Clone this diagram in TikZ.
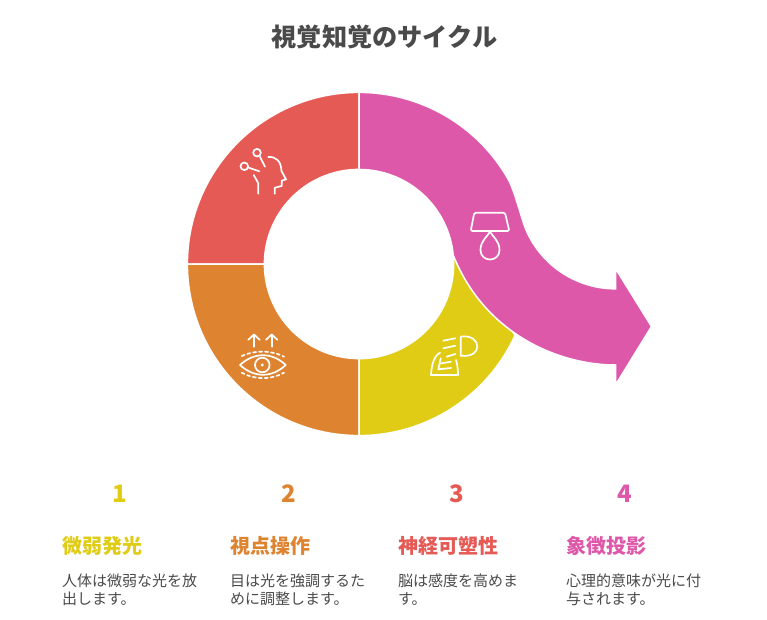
\documentclass[tikz,border=0pt]{standalone}
\usepackage{fontspec}
\setmainfont{Noto Sans CJK JP}
\definecolor{yellowseg}{HTML}{E0CC15}
\definecolor{orangeseg}{HTML}{DE8431}
\definecolor{redseg}{HTML}{E55A55}
\definecolor{pinkseg}{HTML}{DE58A9}
\definecolor{inkgray}{HTML}{4A4A4A}
\begin{document}
\begin{tikzpicture}[x=1pt, y=-1pt, line cap=round]

%---- STYLES ----
\tikzset{
    seg/.style={draw=white, line width=1.5pt},
    icon/.style={draw=white, line width=1.7pt, line join=round},
    titletext/.style={text=inkgray, font=\fontsize{25.2}{30}\selectfont\bfseries, anchor=base},
    numtext/.style={font=\fontsize{24}{28}\selectfont\bfseries, anchor=base},
    headtext/.style={font=\fontsize{20}{24}\selectfont\bfseries, anchor=base west, inner sep=0pt},
    bodytext/.style={text=inkgray, font=\fontsize{15}{18}\selectfont, anchor=base west, inner sep=0pt, align=left},
}

\useasboundingbox (0,0) rectangle (767,620);
\fill[white] (0,0) rectangle (767,620);

% RING CENTRE
\coordinate (C) at (359,264);
\def\Ro{171.6}
\def\Ri{94.6}

%---- RING SEGMENTS ----
\filldraw[seg, fill=redseg] (359,92.4) arc[start angle=-90, end angle=-180, radius=\Ro]
    -- (264.4,264) arc[start angle=180, end angle=270, radius=\Ri] -- cycle;
\filldraw[seg, fill=orangeseg] (187.4,264) arc[start angle=180, end angle=90, radius=\Ro]
    -- (359,358.6) arc[start angle=90, end angle=180, radius=\Ri] -- cycle;
\filldraw[seg, fill=yellowseg] (359,435.6) arc[start angle=90, end angle=24.5, radius=\Ro]
    -- (453.2,255) arc[start angle=-5.5, end angle=90, radius=\Ri] -- cycle;

%---- ARROW ----
\filldraw[seg, fill=pinkseg] (359,92.4) arc[start angle=-90, end angle=-30, radius=\Ro]
    .. controls (514.6,190) and (521.6,220) .. (526.5,231)
    arc[start angle=156, end angle=90, radius=97.5]
    -- (615.5,268.5) -- (651.5,326.5) -- (615.5,385) -- (615.5,365)
    .. controls (560,365) and (485,335) .. (453.2,255)
    arc[start angle=-5.5, end angle=-90, radius=\Ri] -- cycle;

%---- ICON RED (head)
\draw[icon] (257,152.7) circle (3.8);
\draw[icon] (244.3,166.3) circle (3.8);
\draw[icon] (260,156.7) -- (265,166.7);
\draw[icon] (248.7,167.7) -- (259.3,171.3);
\draw[icon] (268.3,157) .. controls (276,156.5) and (281,161) .. (281.5,171)
    -- (286,179.3) -- (281.7,180.7) -- (281.7,186) -- (274.7,187.7) -- (274.7,193.7);
\draw[icon] (253.7,175) -- (258.3,183.3) -- (258.3,193.7);

%---- ICON ORANGE (eye)
\draw[icon] (254,346.7) -- (254,334.5);
\draw[icon] (248.3,339.8) -- (254,334.5) -- (259.7,339.8);
\draw[icon] (271.7,346.7) -- (271.7,334.5);
\draw[icon] (266,339.8) -- (271.7,334.5) -- (277.4,339.8);
\draw[icon] (240,365) .. controls (254,352) and (272,352) .. (285.7,365)
    .. controls (272,378) and (254,378) .. (240,365) -- cycle;
\draw[icon] (262.3,365) circle (7.3);
\fill[white] (262.3,365) circle (1.6);
\draw[icon, dash pattern=on 3pt off 3pt] (241.7,356) .. controls (255,350) and (271,350) .. (284,356.7);
\draw[icon, dash pattern=on 3pt off 3pt] (241.7,372.7) .. controls (255,380) and (271,380) .. (284,372.7);

%---- ICON YELLOW (lamp)
\draw[icon] (460.7,336.7) .. controls (472,335) and (477.3,341) .. (477.3,346.5)
    .. controls (477.3,352) and (472,357) .. (460.7,355.7) -- cycle;
\draw[icon] (443.3,340.7) -- (455.3,338.3);
\draw[icon] (443.3,348.3) -- (455.3,345.7);
\draw[icon] (446.7,356.7) -- (455.3,354);
\draw[icon] (440,352.7) .. controls (434,356) and (431.5,365) .. (431,375) -- (458,375)
    .. controls (458,370) and (457.5,365) .. (456,360);
\draw[icon] (451,368) -- (438.3,369.3) -- (440.7,358.3);
\draw[icon] (440.5,363.5) -- (451,361.7);

%---- ICON PINK (drop)
\draw[icon, rounded corners=1.5pt] (474.3,212.7) -- (505,212.7) -- (509.3,231) -- (470.7,231) -- cycle;
\draw[icon] (490,231.7) .. controls (487,237) and (480.5,241) .. (480.5,250)
    .. controls (480.5,256) and (485,259.5) .. (490,259.5)
    .. controls (495,259.5) and (499.5,256) .. (499.5,250)
    .. controls (499.5,241) and (493,237) .. (490,231.7) -- cycle;

%---- TITLE ----
\node[titletext] (title) at (384.5,47) {視覚知覚のサイクル};

%---- NUMBERS ----
\node[numtext, text=yellowseg] (numA) at (120,502.5) {1};
\node[numtext, text=orangeseg] (numB) at (288.5,502.5) {2};
\node[numtext, text=redseg] (numC) at (456.5,502.5) {3};
\node[numtext, text=pinkseg] (numD) at (624.5,502.5) {4};

%---- HEADINGS ----
\node[headtext, text=yellowseg] (headA) at (62,553) {微弱発光};
\node[headtext, text=orangeseg] (headB) at (230,553) {視点操作};
\node[headtext, text=redseg] (headC) at (398,553) {神経可塑性};
\node[headtext, text=pinkseg] (headD) at (566,553) {象徴投影};

%---- BODY ----
\node[bodytext] (bodyA) at (62,604) {人体は微弱な光を放\\出します。};
\node[bodytext] (bodyB) at (230,604) {目は光を強調するた\\めに調整します。};
\node[bodytext] (bodyC) at (398,604) {脳は感度を高めま\\す。};
\node[bodytext] (bodyD) at (566,604) {心理的意味が光に付\\与されます。};

\end{tikzpicture}
\end{document}
